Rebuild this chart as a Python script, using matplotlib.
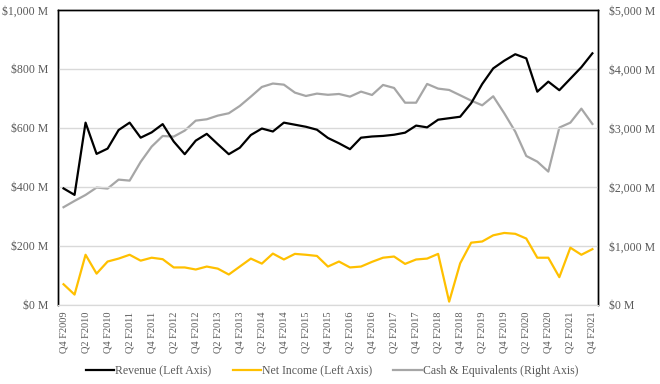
import numpy as np
import matplotlib.pyplot as plt
from matplotlib.ticker import FuncFormatter

# quarterly labels Q4 F2009 .. Q4 F2021
quarters = ["Q4 F2009"] + [f"Q{q} F{y}" for y in range(2010, 2022) for q in (1, 2, 3, 4)]

revenue = [395, 373, 618, 512, 530, 593, 618, 567, 585, 613,
           554, 511, 557, 580, 545, 511, 533, 576, 598, 588,
           618, 611, 604, 594, 566, 548, 528, 567, 571, 573,
           577, 584, 608, 602, 628, 633, 638, 684, 749, 802,
           828, 850, 836, 723, 757, 728, 767, 806, 853]

net_income = [70, 35, 170, 106, 147, 157, 170, 150, 160, 155,
              127, 127, 120, 130, 123, 103, 130, 157, 140, 174,
              154, 173, 170, 166, 130, 147, 127, 130, 146, 160,
              164, 139, 154, 157, 173, 11, 141, 211, 215, 236,
              244, 241, 225, 160, 160, 94, 194, 170, 189]

cash = [1656, 1763, 1864, 1989, 1972, 2124, 2107, 2424, 2684, 2864,
        2853, 2955, 3124, 3147, 3209, 3249, 3373, 3531, 3695, 3753,
        3734, 3599, 3542, 3582, 3562, 3576, 3531, 3616, 3559, 3729,
        3678, 3428, 3428, 3746, 3667, 3644, 3554, 3463, 3384, 3537,
        3249, 2938, 2525, 2429, 2260, 3006, 3090, 3327, 3068]

plt.rcParams['font.family'] = ['Liberation Serif', 'DejaVu Serif']
txt = '#595959'

fig = plt.figure(figsize=(6.6, 3.84), dpi=100)
ax = fig.add_axes([0.0879, 0.206, 0.818, 0.768])
ax2 = ax.twinx()

x = np.arange(len(quarters))
ax.plot(x, revenue, color='black', lw=1.6, label='Revenue (Left Axis)', zorder=3)
ax.plot(x, net_income, color='#FFC000', lw=1.6, label='Net Income (Left Axis)', zorder=3)
ax2.plot(x, cash, color='#A6A6A6', lw=1.6, label='Cash & Equivalents (Right Axis)')

ax.set_zorder(ax2.get_zorder() + 1)
ax.patch.set_visible(False)

ax.set_xlim(-0.5, len(quarters) - 0.5)
ax.set_ylim(0, 1000)
ax2.set_ylim(0, 5000)
ax.set_yticks(np.arange(0, 1001, 200))
ax2.set_yticks(np.arange(0, 5001, 1000))
ax.yaxis.set_major_formatter(FuncFormatter(lambda v, p: f"${v:,.0f} M"))
ax2.yaxis.set_major_formatter(FuncFormatter(lambda v, p: f"${v:,.0f} M"))
ax.grid(axis='y', color='#d9d9d9', lw=1)
ax.set_axisbelow(True)

ax.set_xticks(x[::2])
ax.set_xticklabels(quarters[::2], rotation=90, fontsize=7.5, color=txt)
ax.tick_params(axis='x', length=0, pad=5)
ax.tick_params(axis='y', length=0, pad=7)
ax2.tick_params(axis='y', length=0, pad=8)
for lab in ax.get_yticklabels() + ax2.get_yticklabels():
    lab.set_fontsize(8.5)
    lab.set_color(txt)

for a in (ax, ax2):
    for s in ('left', 'right', 'top'):
        a.spines[s].set_color('black')
        a.spines[s].set_linewidth(1)
    a.spines['bottom'].set_color('#d9d9d9')

h1, l1 = ax.get_legend_handles_labels()
h2, l2 = ax2.get_legend_handles_labels()
fig.legend(h1 + h2, l1 + l2, loc='center', bbox_to_anchor=(0.503, 0.034), ncol=3,
           frameon=False, fontsize=8.5, labelcolor=txt, handlelength=2.4,
           handletextpad=0.1, columnspacing=1.8)

fig.savefig('out.png', dpi=100)
